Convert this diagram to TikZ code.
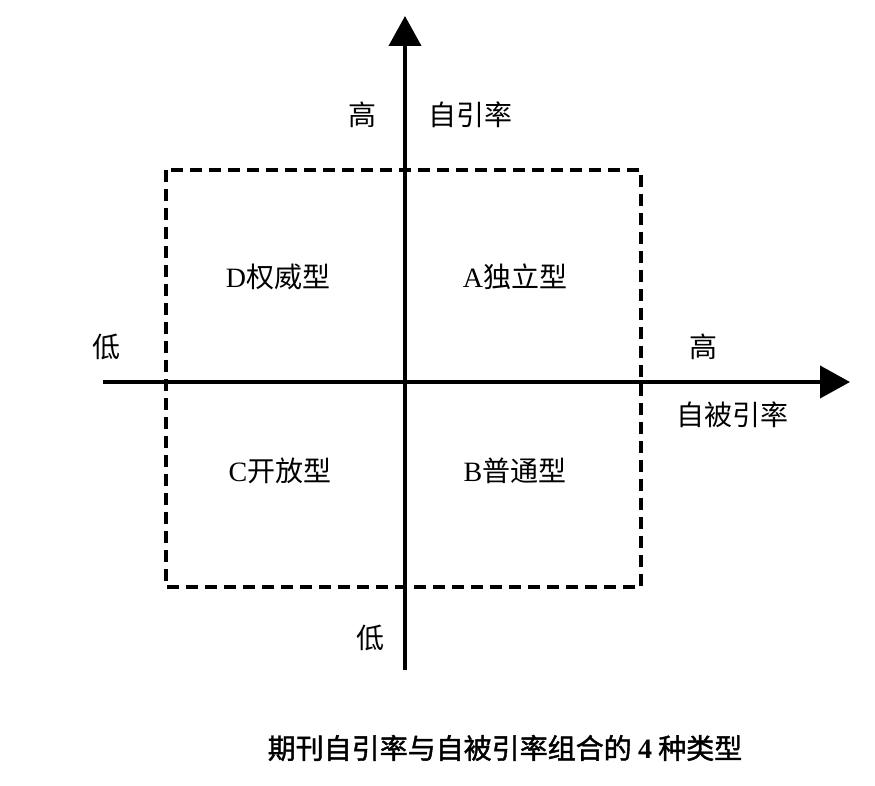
\documentclass[tikz,border=0pt]{standalone}
\usepackage{fontspec}
\setmainfont{Liberation Serif}
\newfontfamily\cjk{Noto Sans CJK SC}
\newfontfamily\cjkbf[FakeBold=1.5]{Noto Sans CJK SC}
\usetikzlibrary{arrows.meta}
\tikzset{
  axis/.style={line width=4pt,-{Triangle[length=30pt,width=32pt]}},
  lbl/.style={font=\fontsize{28}{32}\selectfont},
}
\begin{document}
\begin{tikzpicture}[x=1pt,y=-1pt]
\useasboundingbox (0,0) rectangle (875,786);
\draw[line width=3.5pt,dash pattern=on 12pt off 7pt](166,170) rectangle (641,587);
\coordinate (ybot) at (405,670);
\coordinate (ytop) at (405,16);
\coordinate (xleft) at (103,382);
\coordinate (xright) at (850,382);
\draw[axis](ybot)--(ytop);
\draw[axis](xleft)--(xright);
\node[lbl](yhi) at (362,115){\cjk 高};
\node[lbl](ytext) at (470,115){\cjk 自引率};
\node[lbl](xlo) at (106,347){\cjk 低};
\node[lbl](xhi) at (703,347){\cjk 高};
\node[lbl](xtext) at (732,415){\cjk 自被引率};
\node[lbl](ylo) at (370,638){\cjk 低};
\node[lbl](qd) at (278,277){D{\cjk 权威型}};
\node[lbl](qa) at (515,277){A{\cjk 独立型}};
\node[lbl](qc) at (280,471){C{\cjk 开放型}};
\node[lbl](qb) at (515,471){B{\cjk 普通型}};
\node[lbl](cap) at (505,748){\cjkbf 期刊自引率与自被引率组合的 {\rmfamily\bfseries 4} 种类型};
\end{tikzpicture}
\end{document}
